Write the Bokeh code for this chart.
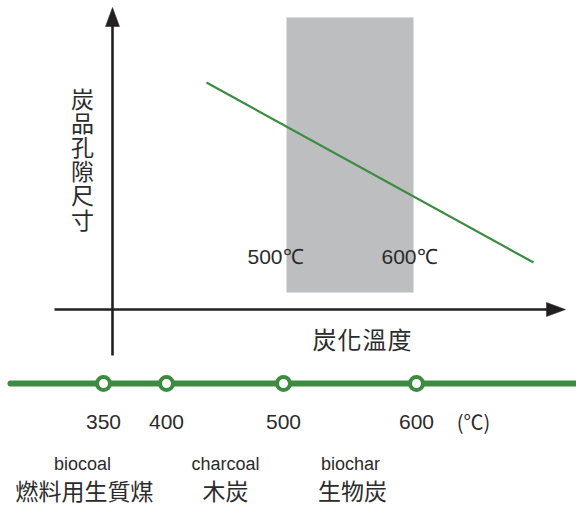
from bokeh.plotting import figure
from bokeh.models import Range1d
from bokeh.core.properties import value
from bokeh.embed import file_html
from bokeh.resources import INLINE

# ---- data ----
temps = [350, 400, 500, 600]
temp_labels = ["350", "400", "500", "600"]
unit_label = "(℃)"
range_labels = ["500℃", "600℃"]
product_en = ["biocoal", "charcoal", "biochar"]
product_zh = ["燃料用生質煤", "木炭", "生物炭"]
y_title = "炭品孔隙尺寸"
x_title = "炭化溫度"

# ---- layout (page pixel coordinates) ----
W, H = 576, 507
p = figure(width=W, height=H, output_backend="svg", toolbar_location=None,
           x_range=Range1d(0, W), y_range=Range1d(H, 0),
           min_border=0, outline_line_color=None)
p.axis.visible = False
p.grid.visible = False
p.background_fill_color = "white"

GREEN = "#3d8b40"
DARK = "#231f20"
TXT = "#2b2b2b"
LAT = "Liberation Sans"
CJK = "Noto Sans CJK TC"

# gray band 500-600
p.quad(left=[286], right=[413], top=[17], bottom=[292], fill_color="#bcbec0", line_color=None)

# trend line
p.line(x=[206, 533], y=[82, 262], line_color=GREEN, line_width=2.2)

# axes
p.line(x=[112, 112], y=[355, 22], line_color=DARK, line_width=2.6)
p.patch(x=[105, 112, 119], y=[26, 7, 26], fill_color=DARK, line_color=DARK, line_width=0.5)
p.line(x=[54, 550], y=[309, 309], line_color=DARK, line_width=2.6)
p.patch(x=[546, 565, 546], y=[302, 309, 316], fill_color=DARK, line_color=DARK, line_width=0.5)

# range labels
p.text(x=[275, 409], y=[256, 256], text=range_labels, text_font=value(LAT),
       text_font_size="21px", text_color=TXT, text_align="center", text_baseline="middle")

# y title (vertical stacked)
ys = [97 + 24.2 * i for i in range(len(y_title))]
p.text(x=[82] * len(y_title), y=ys, text=list(y_title), text_font=value(CJK),
       text_font_size="23px", text_color=TXT, text_align="center", text_baseline="middle")

# x title (letter-spaced)
xs = [324 + 25 * i for i in range(len(x_title))]
p.text(x=xs, y=[338] * len(x_title), text=list(x_title), text_font=value(CJK),
       text_font_size="24px", text_color=TXT, text_align="center", text_baseline="middle")

# timeline
p.line(x=[10, 576], y=[383, 383], line_color=GREEN, line_width=6, line_cap="round")
tx = [103, 166, 283, 416]
p.scatter(x=tx, y=[383] * len(temps), size=13, fill_color="white",
          line_color=GREEN, line_width=4)
p.text(x=tx, y=[421] * len(temps), text=temp_labels, text_font=value(LAT),
       text_font_size="21px", text_color=TXT, text_align="center", text_baseline="middle")
p.text(x=[473], y=[421], text=[unit_label], text_font=value(CJK),
       text_font_size="20px", text_color=TXT, text_align="center", text_baseline="middle")

px = [82, 225, 350]
p.text(x=px, y=[463] * 3, text=product_en, text_font=value(LAT),
       text_font_size="18px", text_color=TXT, text_align="center", text_baseline="middle")
p.text(x=[84, 225, 352], y=[489] * 3, text=product_zh, text_font=value(CJK),
       text_font_size="23px", text_color=TXT, text_align="center", text_baseline="middle")

open("out.html", "w").write(file_html(p, INLINE))
